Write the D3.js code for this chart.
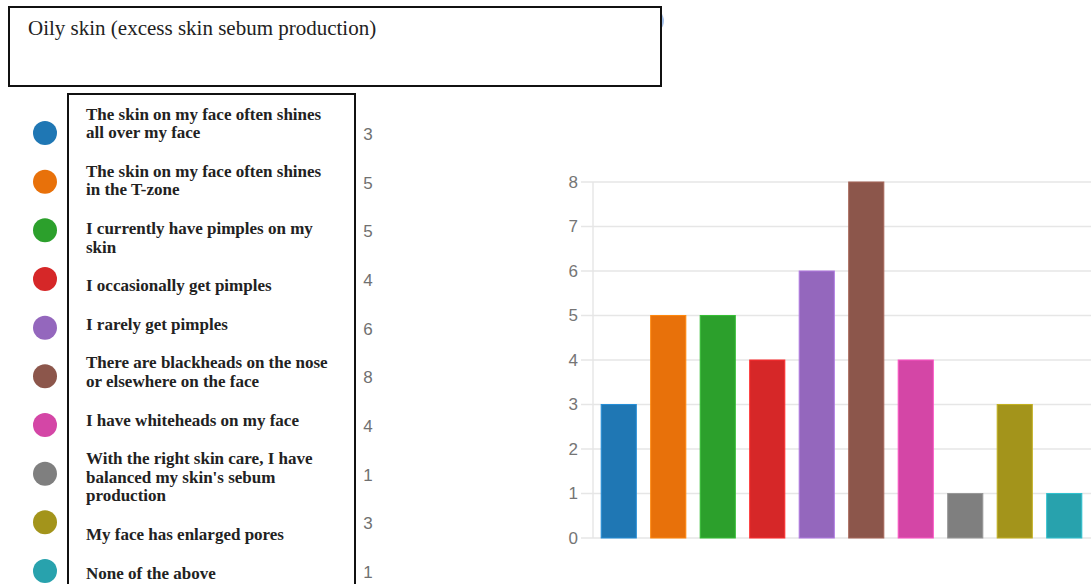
<!DOCTYPE html>
<html>
<head>
<meta charset="utf-8">
<script src="https://cdn.jsdelivr.net/npm/d3@7"></script>
<style>
html,body{margin:0;padding:0;background:#fff;overflow:hidden;}
svg{display:block;}
</style>
</head>
<body>
<svg id="chart" width="1091" height="584"></svg>
<script>
// ---- data ----
const title = "Oily skin (excess skin sebum production)";
const categories = [
  "The skin on my face often shines all over my face",
  "The skin on my face often shines in the T-zone",
  "I currently have pimples on my skin",
  "I occasionally get pimples",
  "I rarely get pimples",
  "There are blackheads on the nose or elsewhere on the face",
  "I have whiteheads on my face",
  "With the right skin care, I have balanced my skin's sebum production",
  "My face has enlarged pores",
  "None of the above"
];
const counts = [3, 5, 5, 4, 6, 8, 4, 1, 3, 1];
const yTicks = [0, 1, 2, 3, 4, 5, 6, 7, 8];
const colors = ["#1f77b4", "#e8710a", "#2ca02c", "#d62728", "#9467bd",
                "#8c564b", "#d446a6", "#7f7f7f", "#a3941b", "#28a2ad"];

// ---- drawing ----
const svg = d3.select("#chart");

// bar chart
const x = d3.scaleBand().domain(d3.range(categories.length))
  .range([594, 1089]).paddingInner(0.29).paddingOuter(0.145);
const y = d3.scaleLinear().domain([0, 8]).range([538, 182]);

const grid = svg.append("g");
grid.selectAll("line").data(yTicks).join("line")
  .attr("x1", 581).attr("x2", 1091)
  .attr("y1", d => y(d)).attr("y2", d => y(d))
  .attr("stroke", "#e6e6e6").attr("stroke-width", 1.6);
grid.append("line").attr("x1", 593).attr("x2", 593)
  .attr("y1", y(8)).attr("y2", y(0))
  .attr("stroke", "#e6e6e6").attr("stroke-width", 1.4);

const yAxis = svg.append("g").attr("transform", "translate(578,0)")
  .call(d3.axisLeft(y).tickValues(yTicks).tickSize(0).tickPadding(0).tickFormat(d3.format("d")));
yAxis.select(".domain").remove();
yAxis.selectAll("text").attr("fill", "#757575")
  .style("font-family", "'Liberation Sans', Arial, sans-serif").style("font-size", "17px");

svg.append("g").selectAll("rect").data(counts).join("rect")
  .attr("x", (d, i) => x(i)).attr("width", x.bandwidth())
  .attr("y", d => y(d)).attr("height", d => y(0) - y(d))
  .attr("fill", (d, i) => colors[i])
  .attr("stroke", (d, i) => d3.color(colors[i]).brighter(0.5))
  .attr("stroke-width", 1);

// title box
svg.append("circle").attr("cx", 652).attr("cy", 21).attr("r", 12).attr("fill", "#4a7fd0").attr("opacity", 0.5);
svg.append("rect").attr("x", 9).attr("y", 7).attr("width", 652).attr("height", 79)
  .attr("fill", "#fff").attr("stroke", "#111").attr("stroke-width", 2);
svg.append("text").attr("x", 28).attr("y", 35).text(title)
  .attr("fill", "#222")
  .style("font-family", "'Liberation Serif', 'DejaVu Serif', serif").style("font-size", "21px");

// legend
const rowY = d3.scaleLinear().domain([0, categories.length - 1]).range([133, 571]);
svg.append("rect").attr("x", 68).attr("y", 94).attr("width", 287).attr("height", 520)
  .attr("fill", "none").attr("stroke", "#111").attr("stroke-width", 2);

svg.append("g").selectAll("circle").data(counts).join("circle")
  .attr("cx", 45).attr("cy", (d, i) => rowY(i)).attr("r", 12)
  .attr("fill", (d, i) => colors[i]);

svg.append("g").selectAll("text").data(counts).join("text")
  .attr("x", 368).attr("y", (d, i) => rowY(i) + 7).attr("text-anchor", "middle")
  .text(d => d).attr("fill", "#707070")
  .style("font-family", "'Liberation Sans', Arial, sans-serif").style("font-size", "17px");

// wrapped legend labels flowing down the box
const labelG = svg.append("g")
  .style("font-family", "'Liberation Serif', 'DejaVu Serif', serif")
  .style("font-size", "17px").style("font-weight", "bold").attr("fill", "#222");
const maxW = 248, lineH = 18.6, gap = 20;
let cursor = 119.5;
categories.forEach(label => {
  const words = label.split(" ");
  const lines = [];
  let cur = "";
  const probe = labelG.append("text");
  words.forEach(w => {
    const test = cur ? cur + " " + w : w;
    probe.text(test);
    if (probe.node().getComputedTextLength() > maxW && cur) {
      lines.push(cur); cur = w;
    } else cur = test;
  });
  lines.push(cur);
  probe.remove();
  lines.forEach((ln, k) => {
    labelG.append("text").attr("x", 86).attr("y", cursor + k * lineH).text(ln);
  });
  cursor += lines.length * lineH + gap;
});
</script>
</body>
</html>
